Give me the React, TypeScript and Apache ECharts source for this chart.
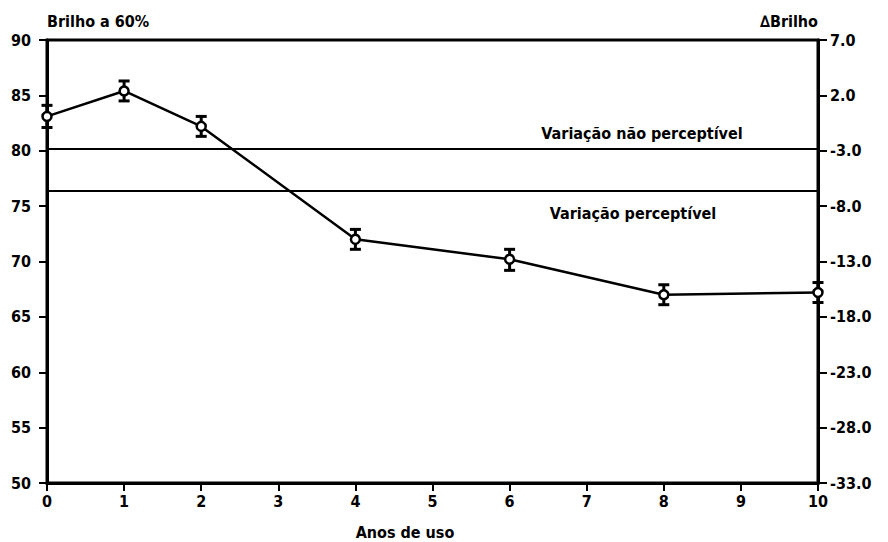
import React, { useEffect, useRef } from "react";
import * as echarts from "echarts";

const years = [0, 1, 2, 4, 6, 8, 10];
const brilho = [83.1, 85.4, 82.2, 72.0, 70.2, 67.0, 67.2];
const errLow = [82.1, 84.5, 81.3, 71.1, 69.2, 66.1, 66.3];
const errHigh = [84.1, 86.3, 83.1, 72.9, 71.1, 67.9, 68.1];
const limitLines = [80.2, 76.4];
const limitLabels = ["Variação não perceptível", "Variação perceptível"];

const FONT = "'Liberation Sans Narrow', 'DejaVu Sans Condensed', 'Liberation Sans', Arial, sans-serif";

export default function App() {
  const ref = useRef<HTMLDivElement>(null);
  useEffect(() => {
    document.body.style.margin = "0";
    const chart = echarts.init(ref.current!, null, { renderer: "svg" });
    const textStyle = { fontFamily: FONT, fontSize: 16, fontWeight: "bold" as const, color: "#000" };
    chart.setOption({
      animation: false,
      backgroundColor: "#fff",
      textStyle: { fontFamily: FONT },
      grid: {
        left: 47,
        right: 70,
        top: 40,
        bottom: 59,
        show: true,
        borderColor: "#000",
        borderWidth: 3,
      },
      xAxis: {
        type: "value",
        min: 0,
        max: 10,
        interval: 1,
        splitLine: { show: false },
        axisLine: { show: true, onZero: false, lineStyle: { color: "#000", width: 3 } },
        axisTick: { show: true, length: 8, lineStyle: { color: "#000", width: 2 } },
        axisLabel: { ...textStyle, margin: 10 },
      },
      yAxis: [
        {
          type: "value",
          min: 50,
          max: 90,
          interval: 5,
          position: "left",
          splitLine: { show: false },
          axisLine: { show: true, onZero: false, lineStyle: { color: "#000", width: 3 } },
          axisTick: { show: true, length: 8, lineStyle: { color: "#000", width: 2 } },
          axisLabel: { ...textStyle, margin: 16 },
        },
        {
          type: "value",
          min: -33,
          max: 7,
          interval: 5,
          position: "right",
          splitLine: { show: false },
          axisLine: { show: true, onZero: false, lineStyle: { color: "#000", width: 3 } },
          axisTick: { show: true, length: 9, lineStyle: { color: "#000", width: 2 } },
          axisLabel: { ...textStyle, margin: 12, formatter: (v: number) => v.toFixed(1) },
        },
      ],
      series: [
        {
          type: "line",
          data: years.map((x, i) => [x, brilho[i]]),
          symbol: "circle",
          symbolSize: 9,
          itemStyle: { color: "#fff", borderColor: "#000", borderWidth: 2.5 },
          lineStyle: { color: "#000", width: 2.5 },
          z: 5,
          markLine: {
            silent: true,
            symbol: "none",
            label: { show: false },
            lineStyle: { color: "#000", width: 2, type: "solid" },
            data: limitLines.map((v) => ({ yAxis: v })),
          },
        },
        {
          type: "custom",
          z: 4,
          data: years.map((x, i) => [x, errLow[i], errHigh[i]]),
          renderItem: (params: any, api: any) => {
            const x = api.value(0);
            const lo = api.coord([x, api.value(1)]);
            const hi = api.coord([x, api.value(2)]);
            const w = 5.5;
            const st = { stroke: "#000", lineWidth: 3 };
            return {
              type: "group",
              children: [
                { type: "line", shape: { x1: lo[0], y1: lo[1], x2: hi[0], y2: hi[1] }, style: st },
                { type: "line", shape: { x1: lo[0] - w, y1: lo[1], x2: lo[0] + w, y2: lo[1] }, style: st },
                { type: "line", shape: { x1: hi[0] - w, y1: hi[1], x2: hi[0] + w, y2: hi[1] }, style: st },
              ],
            };
          },
        },
      ],
      graphic: [
        { type: "text", x: 47, y: 21, style: { text: "Brilho a 60%", font: `bold 16px ${FONT}`, fill: "#000", verticalAlign: "middle" } },
        { type: "text", x: 818, y: 21, style: { text: "∆Brilho", font: `bold 16px ${FONT}`, fill: "#000", align: "right", verticalAlign: "middle" } },
        { type: "text", x: 642, y: 133, style: { text: limitLabels[0], font: `bold 16px ${FONT}`, fill: "#000", align: "center", verticalAlign: "middle" } },
        { type: "text", x: 633, y: 213, style: { text: limitLabels[1], font: `bold 16px ${FONT}`, fill: "#000", align: "center", verticalAlign: "middle" } },
        { type: "text", x: 405, y: 532, style: { text: "Anos de uso", font: `bold 16px ${FONT}`, fill: "#000", align: "center", verticalAlign: "middle" } },
      ],
    });
    return () => chart.dispose();
  }, []);
  return <div ref={ref} style={{ width: 888, height: 542 }} />;
}
